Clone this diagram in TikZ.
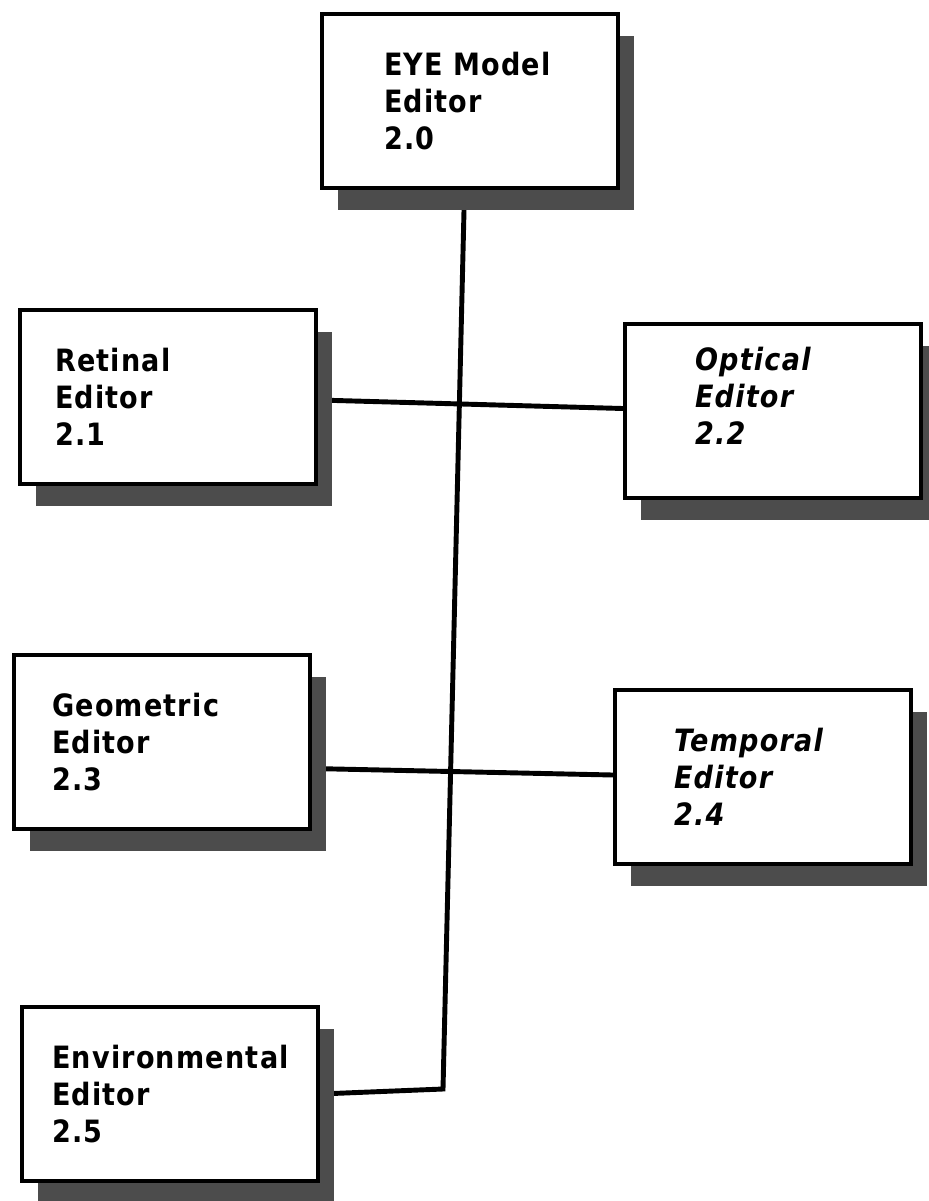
\documentclass[tikz,border=0pt]{standalone}
\usepackage{fontspec}
\setmainfont{DejaVu Sans}[FakeStretch=0.88,LetterSpace=4]
\usetikzlibrary{shadows,backgrounds}
\begin{document}
\begin{tikzpicture}[x=0.02cm,y=-0.02cm,
  box/.style 2 args={draw=black, line width=2.3pt, fill=white, anchor=north west,
    minimum height=3.48cm, inner xsep=#1, text width=#2, align=left,
    font=\fontsize{17.5}{21}\selectfont\bfseries,
    drop shadow={shadow xshift=0.32cm, shadow yshift=-0.44cm, fill=black!70, draw=none, opacity=1}},
  conn/.style={draw=black, line width=2.8pt}]
\useasboundingbox (0,0) rectangle (929,1201);

\node[box={1.24cm}{3.44cm}] (b20) at (320,12) {EYE Model\\Editor\\2.0};
\node[box={0.7cm}{4.52cm}] (b21) at (18,308) {Retinal\\Editor\\2.1};
\node[box={1.4cm}{3.12cm}, text depth=2.08cm] (b22) at (623,322) {\itshape Optical\\\itshape Editor\\\itshape 2.2};
\node[box={0.76cm}{4.4cm}] (b23) at (12,653) {Geometric\\Editor\\2.3};
\node[box={1.18cm}{3.56cm}] (b24) at (613,688) {\itshape Temporal\\\itshape Editor\\\itshape 2.4};
\node[box={0.6cm}{4.72cm}] (b25) at (20,1005) {Environmental\\Editor\\2.5};

\coordinate (jn) at (443,1089);

\begin{pgfonlayer}{background}
  \draw[conn] ([xshift=-0.11cm]b20.south) -- (jn) -- (b25.east);
  \draw[conn] ([yshift=-0.06cm]b21.east) -- ([yshift=0.05cm]b22.west);
  \draw[conn] ([yshift=-0.53cm]b23.east) -- ([yshift=0.04cm]b24.west);
\end{pgfonlayer}
\end{tikzpicture}
\end{document}
